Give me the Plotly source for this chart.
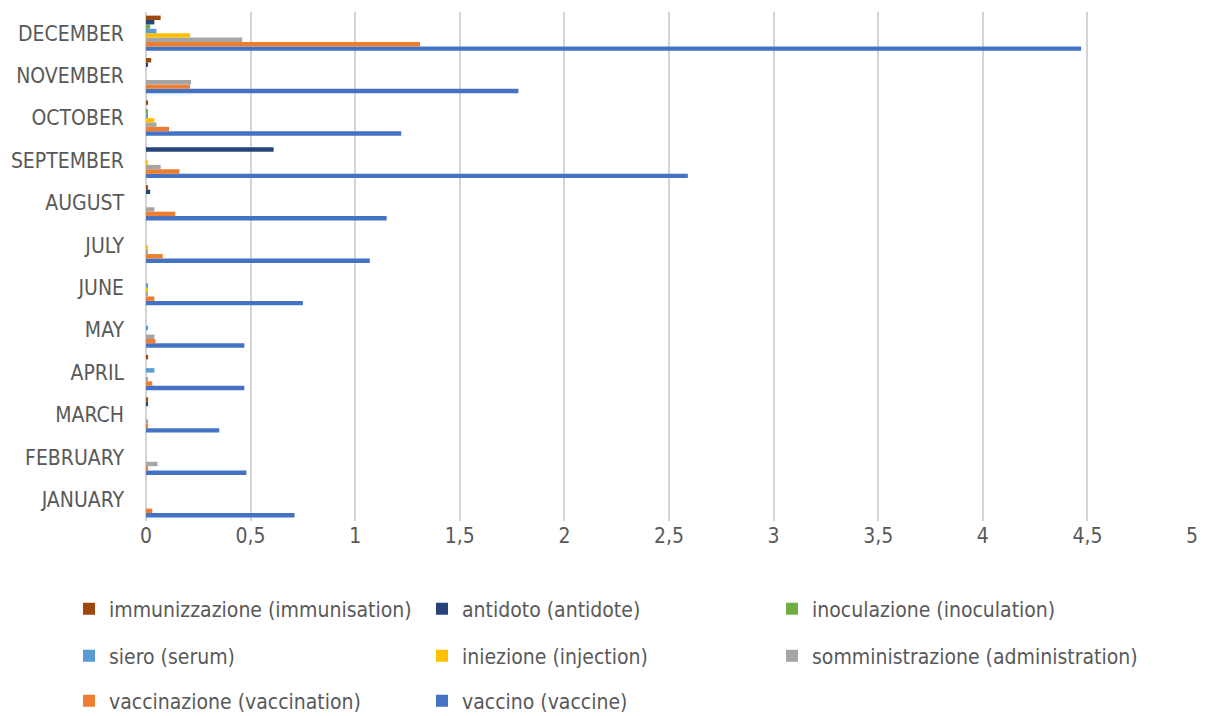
import plotly.graph_objects as go

months = ["JANUARY", "FEBRUARY", "MARCH", "APRIL", "MAY", "JUNE",
          "JULY", "AUGUST", "SEPTEMBER", "OCTOBER", "NOVEMBER", "DECEMBER"]

immunizzazione   = [0, 0, 0.01, 0.01, 0, 0, 0, 0.01, 0, 0.01, 0.025, 0.07]
antidoto         = [0, 0, 0.01, 0, 0, 0, 0, 0.02, 0.61, 0, 0.01, 0.04]
inoculazione     = [0, 0, 0, 0, 0, 0, 0, 0, 0, 0.005, 0, 0.02]
siero            = [0, 0, 0, 0.04, 0.01, 0.006, 0, 0, 0, 0.005, 0, 0.05]
iniezione        = [0, 0, 0, 0, 0, 0.005, 0.01, 0, 0.01, 0.04, 0, 0.21]
somministrazione = [0, 0.055, 0.01, 0.006, 0.04, 0.008, 0.005, 0.04, 0.07, 0.05, 0.215, 0.46]
vaccinazione     = [0.03, 0.01, 0.01, 0.03, 0.045, 0.04, 0.08, 0.14, 0.16, 0.11, 0.21, 1.31]
vaccino          = [0.71, 0.48, 0.35, 0.47, 0.47, 0.75, 1.07, 1.15, 2.59, 1.22, 1.78, 4.47]

series_names = ["immunizzazione (immunisation)", "antidoto (antidote)",
                "inoculazione (inoculation)", "siero (serum)",
                "iniezione (injection)", "somministrazione (administration)",
                "vaccinazione (vaccination)", "vaccino (vaccine)"]
series_values = [immunizzazione, antidoto, inoculazione, siero,
                 iniezione, somministrazione, vaccinazione, vaccino]
series_colors = ["#9E480E", "#264478", "#70AD47", "#5B9BD5",
                 "#FFC000", "#A5A5A5", "#ED7D31", "#4472C4"]

FONT = "Liberation Sans Narrow, DejaVu Sans Condensed, sans-serif"
TXT = "#595959"
W, H = 1207, 716

# legend grid: 3 columns x 3 rows below the plot (container coordinates)
col_x = [69 / W, 422 / W, 772 / W]
row_y = [1 - 609 / H, 1 - 656 / H, 1 - 701 / H]

fig = go.Figure()
legends = {}
# added bottom-up so the last series sits at the bottom of each cluster
for i in reversed(range(len(series_names))):
    leg = "legend" if i == 0 else f"legend{i + 1}"
    fig.add_trace(go.Bar(
        y=months, x=series_values[i], name=series_names[i], orientation="h",
        marker=dict(color=series_colors[i], line=dict(width=0)),
        legend=leg,
    ))
    legends[leg] = dict(
        orientation="h", xref="container", yref="container",
        xanchor="left", yanchor="middle",
        x=col_x[i % 3], y=row_y[i // 3],
        font=dict(family=FONT, size=21, color=TXT),
        bgcolor="rgba(0,0,0,0)", borderwidth=0,
        itemclick=False, itemdoubleclick=False,
    )

fig.update_layout(
    width=W, height=H,
    margin=dict(l=146, r=15, t=12, b=195, autoexpand=False),
    paper_bgcolor="white", plot_bgcolor="white",
    barmode="group", bargap=0.17, bargroupgap=0,
    separators=", ",
    font=dict(family=FONT, size=21, color=TXT),
    xaxis=dict(
        range=[0, 5], dtick=0.5, tick0=0,
        showgrid=True, gridcolor="#D4D4D4", gridwidth=2,
        zeroline=True, zerolinecolor="#D4D4D4", zerolinewidth=2,
        showline=False, ticks="",
        tickfont=dict(family=FONT, size=21, color=TXT),
    ),
    yaxis=dict(
        categoryorder="array", categoryarray=months,
        showgrid=False, zeroline=False, showline=False, ticks="",
        ticklabelstandoff=21,
        tickfont=dict(family=FONT, size=21, color=TXT),
    ),
    showlegend=True,
    **legends,
)

fig.write_html("out.html")
